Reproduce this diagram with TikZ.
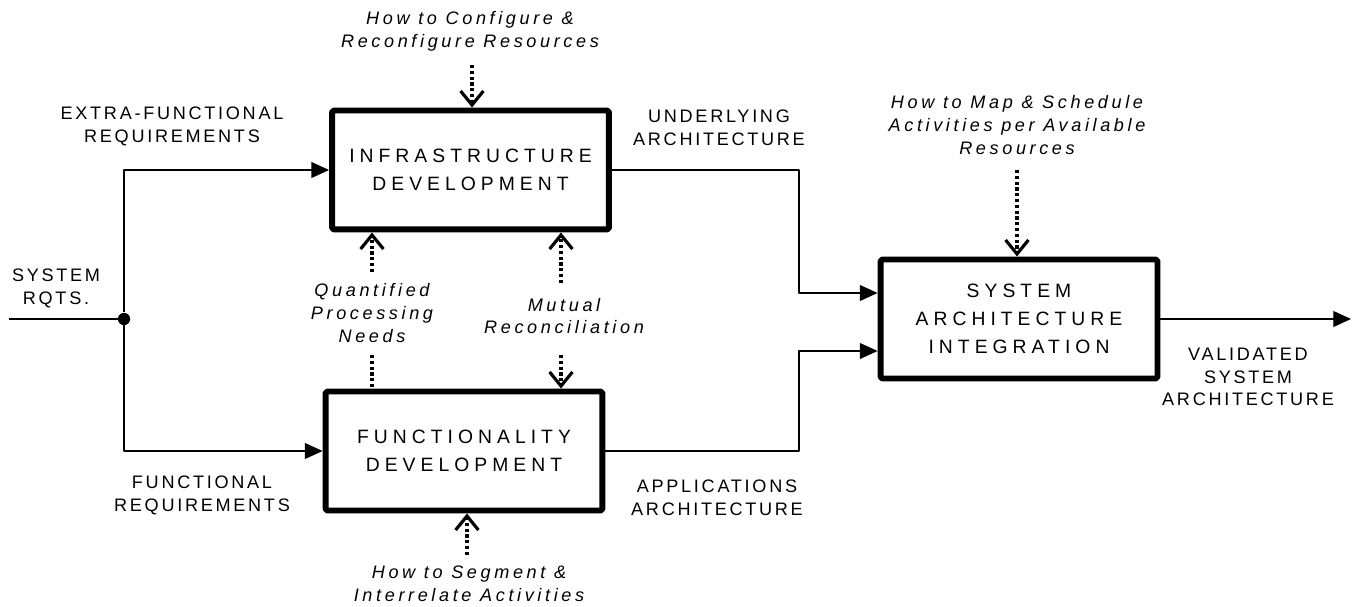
\documentclass[tikz,border=0pt]{standalone}
\usepackage{fontspec}
\setmainfont{Liberation Sans}
\newfontfamily\capsfont[LetterSpace=15]{Liberation Sans}
\newfontfamily\notefont[LetterSpace=20]{Liberation Sans}
\newfontfamily\boxfont[LetterSpace=26]{Liberation Sans}
\usetikzlibrary{arrows.meta,positioning}

\tikzset{
  box/.style={draw,line width=3.4pt,rounded corners=1pt,minimum width=5.54cm,minimum height=2.38cm,
    align=center,font=\boxfont\fontsize{11}{16}\selectfont},
  wire/.style={line width=0.6pt},
  flow/.style={wire,-{Triangle[length=10pt,width=9pt]}},
  ctrlline/.style={line width=1.8pt,dash pattern=on 1.8pt off 1.5pt},
  ctrl/.style={ctrlline,-{Straight Barb[length=8pt,width=13pt]}},
  dot/.style={circle,fill,inner sep=0pt,minimum size=7pt},
  capslbl/.style={align=center,font=\capsfont\fontsize{10.3}{13}\selectfont},
  note/.style={align=center,font=\notefont\itshape\fontsize{10.3}{13}\selectfont},
}

\begin{document}
\begin{tikzpicture}[x=0.02cm,y=-0.02cm, line join=round]
  \useasboundingbox (0,0) rectangle (1354,607);

  % activity boxes
  \node[box] (infra) at (470.5,170) {INFRASTRUCTURE\\DEVELOPMENT};
  \node[box] (func) at (464,451) {FUNCTIONALITY\\DEVELOPMENT};
  \node[box] (sai) at (1019,319) {SYSTEM\\ARCHITECTURE\\INTEGRATION};

  % labels
  \node[capslbl] (rqts) at (56,288) {SYSTEM\\RQTS.};
  \node[capslbl] (extra) at (172,126) {EXTRA-FUNCTIONAL\\REQUIREMENTS};
  \node[capslbl] (freq) at (202,495) {FUNCTIONAL\\REQUIREMENTS};
  \node[capslbl] (under) at (719,128) {UNDERLYING\\ARCHITECTURE};
  \node[capslbl] (apps) at (717,498) {APPLICATIONS\\ARCHITECTURE};
  \node[capslbl] (valid) at (1248,377) {VALIDATED\\SYSTEM\\ARCHITECTURE};
  \node[note] (cfg) at (470,31) {How to Configure \&\\Reconfigure Resources};
  \node[note] (qpn) at (372,313) {Quantified\\Processing\\Needs};
  \node[note] (mutual) at (564,316) {Mutual\\Reconciliation};
  \node[note] (seg) at (469,584) {How to Segment \&\\Interrelate Activities};
  \node[note] (map) at (1017,125) {How to Map \& Schedule\\Activities per Available\\Resources};

  % inputs and outputs
  \coordinate (rqin) at (9,319);
  \node[dot] (split) at (124,319) {};
  \coordinate (bendA) at (799,293);
  \coordinate (bendB) at (799,351);
  \coordinate (out) at (1351,319);
  \draw[wire] (rqin) -- (split);
  \draw[flow] (split) |- (infra.west);
  \draw[flow] (split) |- (func.west);
  \draw[flow] (infra.east) -| (bendA) -- (bendA -| sai.west);
  \draw[flow] (func.east) -| (bendB) -- (bendB -| sai.west);
  \draw[flow] (sai.east) -- (out);

  % controls
  \coordinate (cfgtop) at (472,65);
  \coordinate (qpntop) at (372,272);
  \coordinate (qpnbot) at (372,355);
  \coordinate (mrtop) at (561,283);
  \coordinate (mrbot) at (561,355);
  \coordinate (segtop) at (467,555);
  \coordinate (maptop) at (1017,170);
  \draw[ctrl] (cfgtop) -- (cfgtop |- infra.north);
  \draw[ctrl] (qpntop) -- (qpntop |- infra.south);
  \draw[ctrlline] (qpnbot) -- (qpnbot |- func.north);
  \draw[ctrl] (mrtop) -- (mrtop |- infra.south);
  \draw[ctrl] (mrbot) -- (mrbot |- func.north);
  \draw[ctrl] (segtop) -- (segtop |- func.south);
  \draw[ctrl] (maptop) -- (maptop |- sai.north);
\end{tikzpicture}
\end{document}
